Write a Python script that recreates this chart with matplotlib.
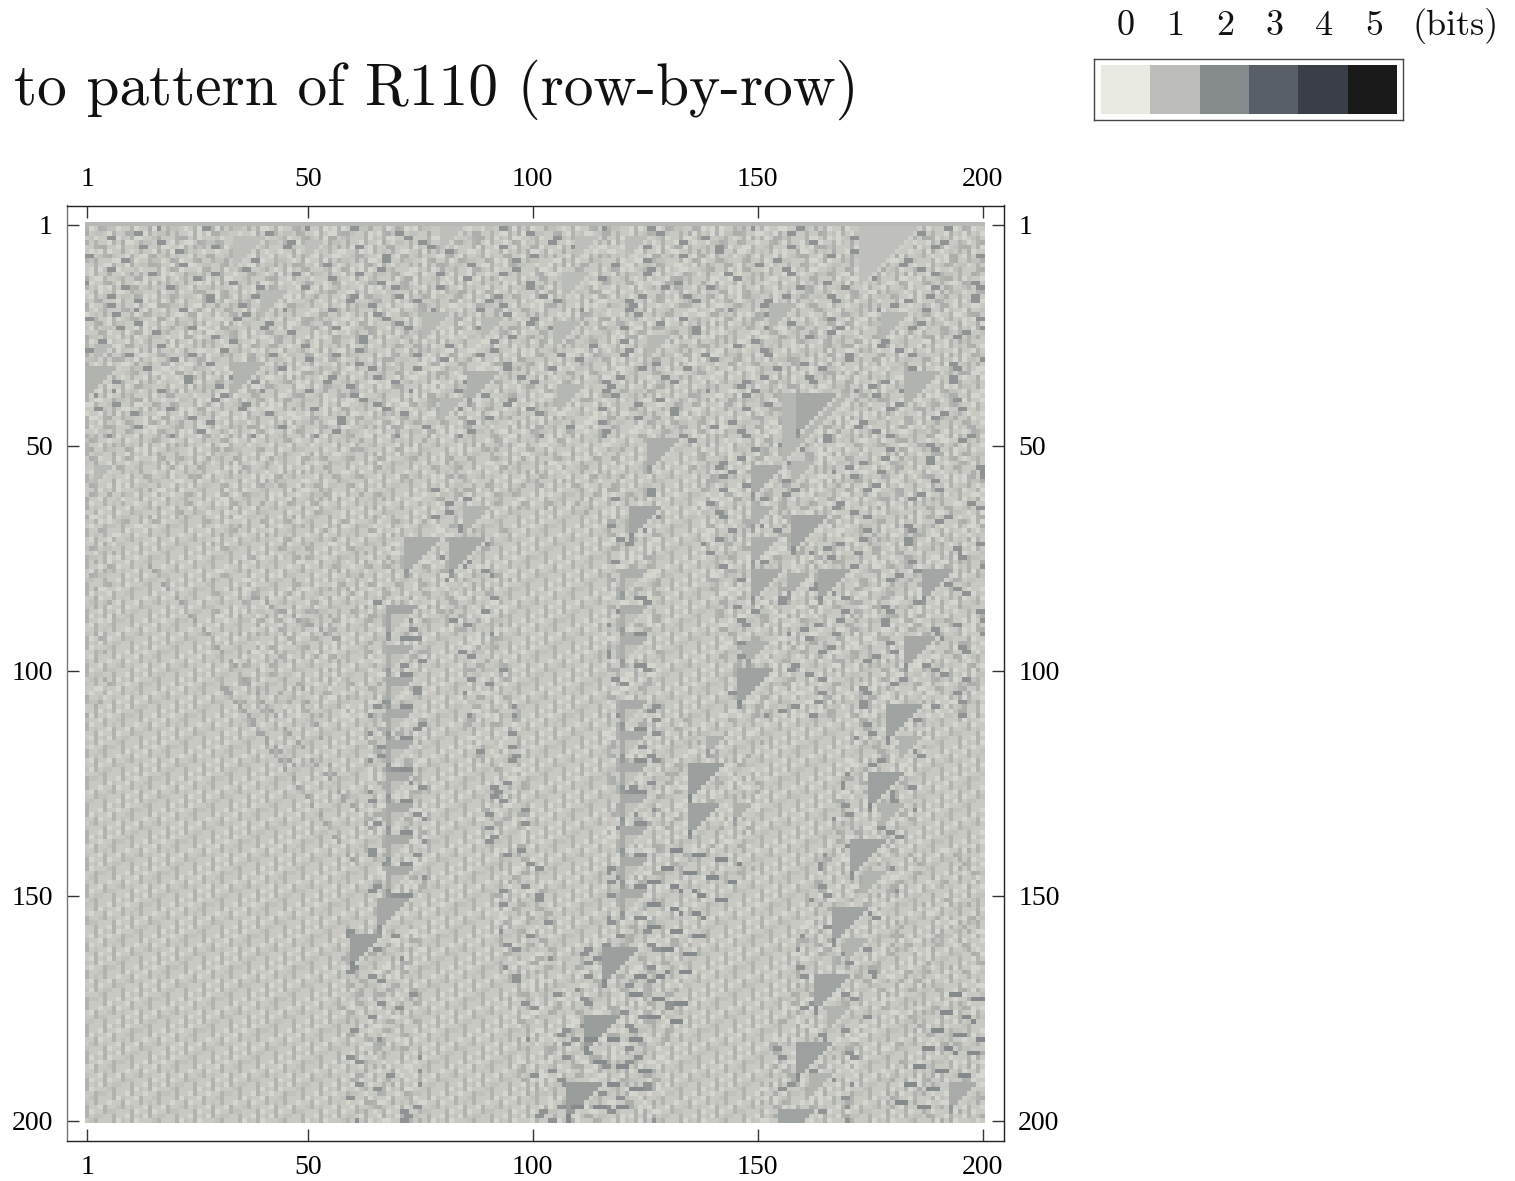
import numpy as np
import matplotlib
matplotlib.use("Agg")
import matplotlib.pyplot as plt
from matplotlib.colors import LinearSegmentedColormap

W, H = 1515, 1181
N = 200

legend_vals = [0, 1, 2, 3, 4, 5]
legend_cols = ['#e8e9e0', '#bcbdb8', '#858a8c', '#585f66', '#3a3e46', '#1a1a1a']
tick_vals = [1, 50, 100, 150, 200]
title = "to pattern of R110 (row-by-row)"

# background tile, read from the lower left corner
ether_tile = ["31103112312110",
              "30113221113011",
              "31221131103120",
              "12311130213011",
              "21311031101132",
              "11302110311231",
              "10113011312131"]
ether_vals = [0.42, 0.72, 0.90, 1.2]
top_row_val = 1.08

# busy texture: a = mid grey, b = dark dash, c = light dot
busy_tile = ["..bb.....a...c...bb......a.c...",
             ".c....a....bb.......c.aa.....",
             "....a...c......a.b.....c...bb..a.",
             "aa....c...a.bb.....a......c..",
             "...c..bb.....c...a....aa.......c.",
             ".a.......a.c.....bb....c..a..",
             "c...aa.......bb....c.....a...bb.",
             "....c....a.c.....a...bb....c..",
             ".bb...a......c..a.......c...aa...",
             "...a...c.bb.......c.a.....a..",
             "a....c.....a...aa.....bb.c......",
             "..c...bb.....c......a.....c.a.",
             "......a..c.a...bb.c....a.....bb.",
             ".a.c........aa.......c...bb...",
             "bb....a.c.....c..a.....a....c..a.",
             "....c....bb.a......bb...c.....",
             ".c.a.....c.......a....c...aa.",
             "a.....bb....a.c.....a.....c.bb.."]
busy_vals = {'a': 1.3, 'b': 1.8, 'c': 0.45}

# zones with busy texture
zone_r0 = [1, 48, 48, 48, 48, 82, 85, 60, 60, 48, 110, 85, 140, 158, 160]
zone_r1 = [48, 110, 88, 68, 65, 110, 150, 200, 160, 110, 145, 200, 200, 200, 200]
zone_l0 = [1, 1, 27, 8, 95, 35, 64, 78, 117, 135, 130, 180, 180, 58, 112]
zone_e0 = [200, 10, 95, 27, 120, 60, 76, 88, 128, 200, 152, 195, 200, 75, 135]
zone_l1 = [1, 1, 30, 8, 95, 35, 64, 100, 117, 145, 125, 150, 178, 60, 105]
zone_e1 = [200, 6, 95, 27, 120, 60, 76, 112, 128, 200, 150, 170, 200, 75, 128]
zone_full = [1, 0, 0, 0, 0, 0, 1, 1, 1, 1, 0, 1, 0, 1, 1]

# triangles: top row, left column, size, value
tri_r = [33, 32, 34, 40, 4, 16, 21, 22, 64, 71, 71, 86, 95, 2, 5, 28, 55,
         2, 39, 39, 34, 49, 55, 54, 64, 66, 64, 71, 78, 79, 78, 78, 78, 86, 93, 94, 93,
         12, 23, 37, 26, 19, 21, 4, 4,
         102, 109, 116, 123, 130, 137, 144, 151, 159,
         107, 114, 121, 128, 135, 142, 149,
         100, 121, 130, 108, 123, 138, 153, 168, 183, 198, 162, 177, 192,
         115, 130, 145, 160, 175, 190, 115, 130, 192]
tri_c = [1, 34, 86, 80, 34, 40, 76, 89, 85, 72, 82, 68, 68, 80, 50, 3, 3,
         173, 156, 159, 183, 126, 149, 158, 122, 158, 149, 149, 149, 157, 164, 187, 120, 120, 120, 148, 183,
         107, 105, 106, 126, 153, 178, 121, 110,
         68, 68, 68, 68, 68, 68, 68, 66, 60,
         120, 120, 120, 120, 120, 120, 120,
         146, 135, 135, 179, 175, 171, 167, 163, 159, 155, 116, 112, 108,
         182, 178, 174, 170, 166, 162, 139, 145, 193]
tri_s = [7, 7, 7, 5, 7, 6, 6, 5, 6, 8, 8, 7, 6, 5, 4, 4, 4,
         13, 15, 9, 8, 7, 7, 5, 7, 8, 5, 6, 7, 5, 7, 7, 6, 6, 6, 5, 7,
         6, 6, 6, 5, 6, 6, 5, 5,
         6, 6, 6, 6, 6, 6, 6, 7, 7,
         6, 6, 6, 6, 6, 6, 6,
         8, 8, 7, 8, 8, 8, 8, 8, 8, 8, 8, 8, 8,
         5, 5, 5, 5, 5, 5, 4, 4, 6]
tri_v = [1.2, 1.18, 1.24, 1.08, 0.95, 1.06, 1.08, 1.06, 1.18, 1.33, 1.39, 1.45, 1.27, 0.95, 0.95, 1.06, 1.06,
         0.92, 1.12, 1.42, 1.2, 1.3, 1.36, 1.12, 1.45, 1.48, 1.24, 1.27, 1.39, 1.3, 1.42, 1.45, 1.3, 1.3, 1.3, 1.24, 1.42,
         1.03, 1.08, 1.12, 1.06, 1.12, 1.12, 1.0, 0.95,
         1.36, 1.36, 1.36, 1.36, 1.36, 1.36, 1.36, 1.42, 1.6,
         1.36, 1.36, 1.36, 1.36, 1.36, 1.36, 1.36,
         1.54, 1.6, 1.54, 1.51, 1.57, 1.51, 1.51, 1.51, 1.57, 1.51, 1.6, 1.63, 1.66,
         1.18, 1.18, 1.18, 1.18, 1.18, 1.18, 1.24, 1.24, 1.36]
# the triangles in these columns are open in the middle
hollow_cols = [68, 120]

# diagonal stripes of dark dashes: start row/col, end row/col
st_r0 = [140, 144, 147, 152, 157, 162, 168, 172, 177, 182, 187, 192, 197,
         172, 176, 180, 184, 188, 192, 196]
st_c0 = [131, 129, 126, 126, 126, 129, 123, 122, 126, 112, 114, 117, 109,
         193, 191, 189, 187, 185, 183, 181]
st_r1 = [143, 147, 151, 155, 159, 163, 167, 174, 178, 182, 189, 193, 197,
         173, 178, 182, 185, 190, 193, 197]
st_c1 = [146, 145, 143, 140, 138, 137, 135, 135, 133, 126, 126, 125, 123,
         200, 200, 200, 200, 197, 192, 190]
st_val = 2.0

# faint diagonals in the lower left
faint_r0 = [77, 104, 84, 104, 104]
faint_c0 = [15, 31, 38, 32, 49]
faint_r1 = [135, 122, 93, 142, 129]
faint_c1 = [64, 48, 57, 60, 58]
faint_val = 1.45

# build the cell values
cells = np.zeros((N, N))
for r in range(N):
    row = ether_tile[r % 7]
    shift = 4 * (r // 7)
    for c in range(N):
        cells[r, c] = ether_vals[int(row[(c + shift) % 14])]

for r0, r1, l0, e0, l1, e1, full in zip(zone_r0, zone_r1, zone_l0, zone_e0, zone_l1, zone_e1, zone_full):
    for r in range(r0, r1 + 1):
        t = (r - r0) / max(r1 - r0, 1)
        left = l0 + t * (l1 - l0)
        right = e0 + t * (e1 - e0)
        row = busy_tile[r % len(busy_tile)]
        for c in range(int(left), int(right) + 1):
            ch = row[(c + 5 * (r // 18)) % len(row)]
            if ch == '.':
                continue
            # the weaker zones only get some of the dashes
            if not full and ch == 'b':
                ch = 'a'
            if not full and (r + c) % 2 == 0:
                continue
            cells[r - 1, c - 1] = busy_vals[ch]

for r, c, s, v in zip(tri_r, tri_c, tri_s, tri_v):
    for i in range(s):
        if r - 1 + i >= N:
            break
        cells[r - 1 + i, c - 1:min(c - 1 + s - i, N)] = v
        if c in hollow_cols and i >= 2:
            cells[r - 1 + i, c:min(c - 1 + s - i, N)] = 0.9
        # lighter ridge along the slanted side
        if c - 1 + s - i < N:
            cells[r - 1 + i, c - 1 + s - i] = 0.6
    if v > 1.2 and r - 1 + s < N:
        cells[r - 1 + s - 1, c - 1] = v + 0.4
        cells[r - 1 + s, c - 1] = v + 0.3
    # dark dash under the open triangles
    if c in hollow_cols and r + s < N:
        cells[r - 1 + s, c + 2:c + 5] = 1.9

for r0, c0, r1, c1 in zip(st_r0, st_c0, st_r1, st_c1):
    for c in range(c0, c1 + 1):
        if (c - c0) % 5 < 3:
            r = r0 + round((c - c0) * (r1 - r0) / (c1 - c0))
            cells[r - 1, c - 1] = st_val

for r0, c0, r1, c1 in zip(faint_r0, faint_c0, faint_r1, faint_c1):
    for c in range(c0, c1 + 1):
        if (c - c0) % 3 < 2:
            r = r0 + round((c - c0) * (r1 - r0) / (c1 - c0))
            cells[r - 1, c - 1] = faint_val

cells[0, :] = top_row_val

cmap = LinearSegmentedColormap.from_list("bits", list(zip(np.array(legend_vals) / 5, legend_cols)))


def px_axes(fig, x0, y0, x1, y1):
    # axes from pixel box, y counted from the top
    return fig.add_axes([x0 / W, 1 - y1 / H, (x1 - x0) / W, (y1 - y0) / H])


fig = plt.figure(figsize=(W / 100, H / 100), dpi=100)

ax = px_axes(fig, 66.7, 205.5, 1004.3, 1141.3)
ax.imshow(cells, cmap=cmap, vmin=0, vmax=5, interpolation='nearest', aspect='auto',
          extent=(0.5, N + 0.5, N + 0.5, 0.5))
ax.set_xlim(-3.61, 204.83)
ax.set_ylim(204.6, -3.33)
ax.set_xticks(tick_vals)
ax.set_yticks(tick_vals)
ax.tick_params(axis='both', direction='in', length=8.5, width=1, color='#333333', labelsize=20, pad=10,
               top=True, bottom=True, left=True, right=True,
               labeltop=True, labelbottom=True, labelleft=True, labelright=True)
for lbl in ax.get_xticklabels() + ax.get_yticklabels():
    lbl.set_family('Liberation Serif')
for side in ax.spines:
    ax.spines[side].set_linewidth(1.0)
    ax.spines[side].set_color('#222222')
ax.spines['left'].set_color('#777777')

fig.text(14 / W, 1 - 105 / H, title, family='cmr10', fontsize=42.7, va='baseline', ha='left', color='#111111')

# legend strip
leg = px_axes(fig, 1094.3, 59, 1403.3, 119.5)
leg.imshow([legend_vals], cmap=cmap, vmin=0, vmax=5, interpolation='nearest', aspect='auto',
           extent=(1101, 1397, 114, 65))
leg.set_xlim(1094.3, 1403.3)
leg.set_ylim(119.5, 59)
leg.set_xticks([])
leg.set_yticks([])
for side in leg.spines:
    leg.spines[side].set_linewidth(1.0)
    leg.spines[side].set_color('#444444')

for i, v in enumerate(legend_vals):
    fig.text((1126 + i * 49.6) / W, 1 - 35 / H, str(v), family='cmr10', fontsize=26, ha='center', va='baseline',
             color='#111111')
fig.text(1456 / W, 1 - 35 / H, "(bits)", family='cmr10', fontsize=26, ha='center', va='baseline', color='#111111')

fig.savefig("out.png", dpi=100)
